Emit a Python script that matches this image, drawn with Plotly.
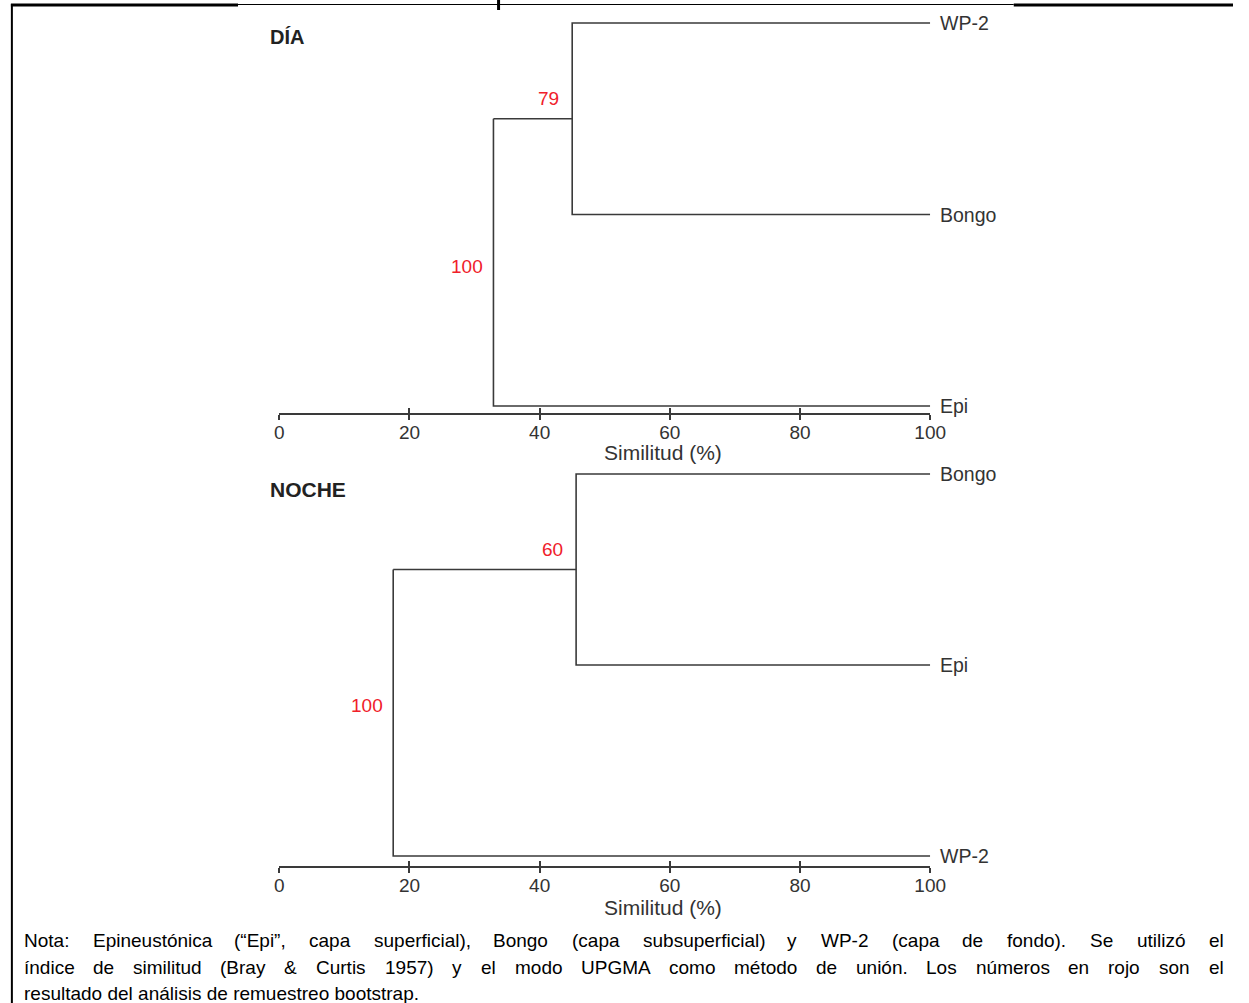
import plotly.graph_objects as go

W, H = 1249, 1003

# UPGMA dendrograms (Bray-Curtis similarity). In each panel the first two
# leaves join first, then that cluster joins the third leaf.
day_leaves = ["WP-2", "Bongo", "Epi"]
day_join_similarity = [45.0, 32.9]
day_bootstrap = [79, 100]

night_leaves = ["Bongo", "Epi", "WP-2"]
night_join_similarity = [45.6, 17.5]
night_bootstrap = [60, 100]

x_ticks = [0, 20, 40, 60, 80, 100]
x_title = "Similitud (%)"
panel_titles = ["DÍA", "NOCHE"]

note_lines = [
    "Nota: Epineustónica (“Epi”, capa superficial), Bongo (capa subsuperficial) y WP-2 (capa de fondo). Se utilizó el",
    "índice de similitud (Bray & Curtis 1957) y el modo UPGMA como método de unión. Los números en rojo son el",
    "resultado del análisis de remuestreo bootstrap.",
]

FONT = "Liberation Sans, Arial, sans-serif"
LINE = "#3a3a3a"
RED = "#f0202a"


def px_x(p):
    return p / W


def px_y(p):
    return 1 - p / H


# panel geometry: leaf0 pixel row, pixels per leaf, axis row, text rows
panels = [
    dict(leaves=day_leaves, joins=day_join_similarity, boot=day_bootstrap,
         top=23, step=191.5, axis=413, title_y=37, xtitle_y=453, root_dy=-4,
         title_size=20),
    dict(leaves=night_leaves, joins=night_join_similarity, boot=night_bootstrap,
         top=474, step=191.0, axis=866, title_y=489, xtitle_y=907, root_dy=7,
         title_size=21),
]

fig = go.Figure()
layout = dict(
    width=W, height=H,
    margin=dict(l=0, r=0, t=0, b=0),
    paper_bgcolor="white", plot_bgcolor="white",
    showlegend=False,
    font=dict(family=FONT, color="#333"),
)
annotations = []
shapes = []

x_domain = [279 / W, 941 / W]

for i, p in enumerate(panels):
    xa = "x" if i == 0 else "x2"
    ya = "y" if i == 0 else "y2"
    xin = "x3" if i == 0 else "x4"
    j0, j1 = p["joins"]
    node_y = 0.5
    # dendrogram branches
    xs = [100, j0, j0, 100, None,
          j0, j1, None,
          100, j1, j1]
    ys = [0, 0, 1, 1, None,
          node_y, node_y, None,
          2, 2, node_y]
    fig.add_trace(go.Scatter(x=xs, y=ys, mode="lines", xaxis=xa, yaxis=ya,
                             line=dict(color=LINE, width=1.6),
                             hoverinfo="skip", showlegend=False))
    # helper trace carrying the inward tick marks
    fig.add_trace(go.Scatter(x=[None], y=[None], xaxis=xin, yaxis=ya,
                             mode="markers", hoverinfo="skip", showlegend=False))

    pad = 0.1
    r_bottom = (p["axis"] - p["top"]) / p["step"]
    dom = [px_y(p["axis"]), px_y(p["top"] - pad * p["step"])]
    yname = "yaxis" if i == 0 else "yaxis2"
    layout[yname] = dict(domain=dom, range=[r_bottom, -pad], visible=False,
                         fixedrange=True)
    xname = "xaxis" if i == 0 else "xaxis2"
    layout[xname] = dict(
        domain=x_domain, range=[0, 100], anchor=ya,
        showgrid=False, zeroline=False,
        showline=True, linecolor=LINE, linewidth=1.5,
        ticks="outside", ticklen=5, tickwidth=1.5, tickcolor=LINE,
        tickvals=x_ticks, ticktext=[str(t) for t in x_ticks],
        tickfont=dict(size=19, color="#333", family=FONT),
        ticklabelstandoff=-4,
    )
    inname = "xaxis3" if i == 0 else "xaxis4"
    layout[inname] = dict(
        domain=x_domain, range=[0, 100], anchor=ya, overlaying=xa,
        showgrid=False, zeroline=False, showline=False,
        ticks="inside", ticklen=5, tickwidth=1.5, tickcolor=LINE,
        tickvals=x_ticks, showticklabels=False,
    )

    # leaf labels
    for k, name in enumerate(p["leaves"]):
        annotations.append(dict(x=100, y=k, xref=xa, yref=ya, text=name,
                                showarrow=False, xanchor="left", yanchor="middle",
                                xshift=8, font=dict(size=19.5, color="#333", family=FONT)))
    # bootstrap values
    annotations.append(dict(x=j0, y=node_y, xref=xa, yref=ya, text=str(p["boot"][0]),
                            showarrow=False, xanchor="right", yanchor="middle",
                            xshift=-11, yshift=20,
                            font=dict(size=19, color=RED, family=FONT)))
    annotations.append(dict(x=j1, y=(node_y + 2) / 2, xref=xa, yref=ya,
                            text=str(p["boot"][1]),
                            showarrow=False, xanchor="right", yanchor="middle",
                            xshift=-8, yshift=p["root_dy"],
                            font=dict(size=19, color=RED, family=FONT)))
    # axis title
    annotations.append(dict(x=59, y=px_y(p["xtitle_y"]), xref=xa, yref="paper",
                            text=x_title, showarrow=False, xanchor="center",
                            yanchor="middle", borderpad=0,
                            font=dict(size=21, color="#333", family=FONT)))
    # panel title
    annotations.append(dict(x=px_x(268), y=px_y(p["title_y"]), xref="paper", yref="paper",
                            text="<b>%s</b>" % panel_titles[i], showarrow=False,
                            xanchor="left", yanchor="middle",
                            font=dict(size=p["title_size"], color="#222", family=FONT)))

# Arial advance widths (1/1000 em) for justifying the note text
_W = {}
for chars, w in [("ijl", 222), (" fIt.,:!í", 278), ("r()-“”", 333),
                 ("cksvxyzJ", 500), ("abdeghnopqu0123456789áéóúL", 556),
                 ("FTZ", 611), ("ABEKPSVXY&", 667), ("CDHNRUw", 722),
                 ("GOQ", 778), ("mM", 833), ("%", 889), ("W", 944)]:
    for c in chars:
        _W[c] = w


def text_width(s, size):
    return sum(_W.get(c, 556) for c in s) * size / 1000.0


NOTE_SIZE = 19
note_left, note_right = 18, 1238
note_ys = [940, 967, 993]
for li, line in enumerate(note_lines):
    words = line.split(" ")
    justify = li < len(note_lines) - 1
    if justify:
        widths = [text_width(w_, NOTE_SIZE) for w_ in words]
        gap = (note_right - note_left - sum(widths)) / (len(words) - 1)
        x = note_left
        for w_, ww in zip(words, widths):
            annotations.append(dict(x=px_x(x - 1), y=px_y(note_ys[li]), xref="paper",
                                    yref="paper", text=w_, showarrow=False,
                                    xanchor="left", yanchor="middle",
                                    font=dict(size=NOTE_SIZE, color="black", family=FONT)))
            x += ww + gap
    else:
        annotations.append(dict(x=px_x(note_left - 1), y=px_y(note_ys[li]), xref="paper",
                                yref="paper", text=line, showarrow=False,
                                xanchor="left", yanchor="middle",
                                font=dict(size=NOTE_SIZE, color="black", family=FONT)))

# surrounding frame (left rule and top rule)
shapes += [
    dict(type="line", xref="paper", yref="paper", x0=px_x(7), x1=px_x(7),
         y0=px_y(4), y1=0, line=dict(color="black", width=2)),
    dict(type="line", xref="paper", yref="paper", x0=px_x(6), x1=px_x(237),
         y0=px_y(5), y1=px_y(5), line=dict(color="black", width=3)),
    dict(type="line", xref="paper", yref="paper", x0=px_x(237), x1=px_x(1026),
         y0=px_y(4.5), y1=px_y(4.5), line=dict(color="black", width=1)),
    dict(type="line", xref="paper", yref="paper", x0=px_x(1026), x1=1,
         y0=px_y(5), y1=px_y(5), line=dict(color="black", width=3)),
    dict(type="line", xref="paper", yref="paper", x0=px_x(502), x1=px_x(502),
         y0=1, y1=px_y(10), line=dict(color="black", width=3)),
]

layout["annotations"] = annotations
layout["shapes"] = shapes
fig.update_layout(**layout)

# keep everything inside the 1249x1003 figure box (no page overflow)
clip_js = (
    "document.documentElement.style.margin='0';"
    "document.body.style.margin='0';"
    "document.documentElement.style.overflow='hidden';"
    "document.body.style.overflow='hidden';"
    "var gd=document.getElementById('{plot_id}');"
    "gd.style.overflow='hidden';"
    "gd.querySelectorAll('svg.main-svg').forEach(function(s){s.style.overflow='hidden';});"
)
fig.write_html("out.html", post_script=clip_js)
